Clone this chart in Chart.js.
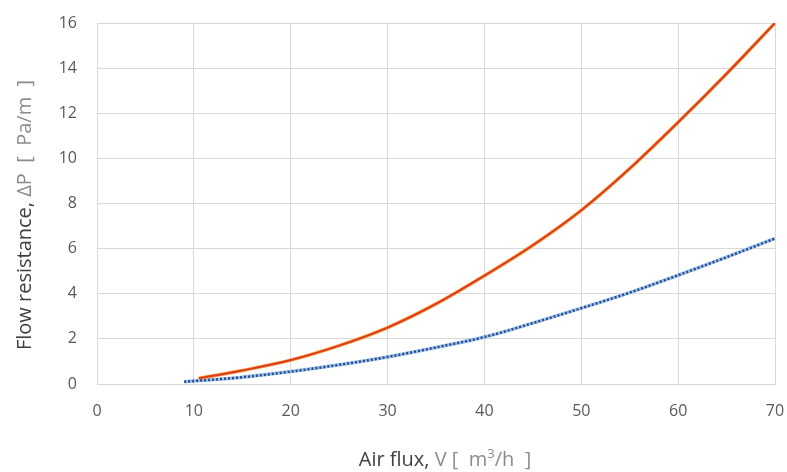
<!DOCTYPE html>
<html>
<head>
<meta charset="utf-8">
<script src="https://cdn.jsdelivr.net/npm/chart.js@4.4.0/dist/chart.umd.min.js"></script>
<style>
  html, body { margin: 0; padding: 0; background: #fff; overflow: hidden; }
  #wrap { width: 787px; height: 472px; position: relative; }
  canvas { display: block; }
</style>
</head>
<body>
<div id="wrap"><canvas id="chart"></canvas></div>
<script>
// --- data ---
const redFlux = [10.5, 15, 20, 25, 30, 35, 40, 45, 50, 55, 60, 65, 70];
const redDp   = [0.25, 0.6, 1.06, 1.7, 2.5, 3.55, 4.8, 6.15, 7.7, 9.55, 11.6, 13.75, 16];
const blueFlux = [9, 15, 20, 25, 30, 35, 40, 45, 50, 55, 60, 65, 70];
const blueDp   = [0.1, 0.3, 0.55, 0.85, 1.2, 1.62, 2.08, 2.7, 3.36, 4.05, 4.82, 5.62, 6.45];
const xTicks = [0, 10, 20, 30, 40, 50, 60, 70];
const yTicks = [0, 2, 4, 6, 8, 10, 12, 14, 16];

const pts = (xs, ys) => xs.map((x, i) => ({ x: x, y: ys[i] }));

const FONT = '"Open Sans", "Noto Sans", sans-serif';
const dark = '#404040';
const light = '#8c8c8c';

// axis titles in two colours, like the original
const titlePlugin = {
    id: 'twoToneTitles',
    afterDraw(chart) {
        const ctx = chart.ctx;
        ctx.save();
        ctx.textBaseline = 'alphabetic';

        // x title, with a small superscript 3
        const a = 'Air flux, ', b = 'V [  m', sup = '3', c = '/h  ]';
        ctx.font = '20px ' + FONT;
        const wa = ctx.measureText(a).width, wb = ctx.measureText(b).width, wc = ctx.measureText(c).width;
        ctx.font = '13px ' + FONT;
        const ws = ctx.measureText(sup).width;
        let x = 445 - (wa + wb + ws + wc) / 2;
        const y = 466;
        ctx.font = '20px ' + FONT;
        ctx.fillStyle = dark; ctx.fillText(a, x, y); x += wa;
        ctx.fillStyle = light; ctx.fillText(b, x, y); x += wb;
        ctx.font = '13px ' + FONT; ctx.fillText(sup, x, y - 8); x += ws;
        ctx.font = '20px ' + FONT; ctx.fillText(c, x, y);

        // y title, rotated
        ctx.translate(31, 215);
        ctx.rotate(-Math.PI / 2);
        const parts = [['Flow resistance, ', dark], ['\u0394P  [  Pa/m  ]', light]];
        const total = parts.reduce((s, p) => s + ctx.measureText(p[0]).width, 0);
        let px = -total / 2;
        parts.forEach(p => {
            ctx.fillStyle = p[1];
            ctx.fillText(p[0], px, 0);
            px += ctx.measureText(p[0]).width;
        });
        ctx.restore();
    }
};

new Chart(document.getElementById('chart'), {
    type: 'line',
    data: {
        datasets: [
            // thin lines first so they sit on top of their wide halos
            { data: pts(redFlux, redDp), borderColor: '#dd3a22', borderWidth: 2, pointRadius: 0, cubicInterpolationMode: 'monotone' },
            { data: pts(blueFlux, blueDp), borderColor: '#2c4a8c', borderWidth: 2.5, borderDash: [2, 2], pointRadius: 0, cubicInterpolationMode: 'monotone' },
            { data: pts(redFlux, redDp), borderColor: '#f5a23c', borderWidth: 3.5, pointRadius: 0, cubicInterpolationMode: 'monotone' },
            { data: pts(blueFlux, blueDp), borderColor: '#9cc3ea', borderWidth: 3.5, pointRadius: 0, cubicInterpolationMode: 'monotone' }
        ]
    },
    options: {
        responsive: true,
        maintainAspectRatio: false,
        animation: false,
        layout: { padding: { top: 23, right: 12, left: 0, bottom: 0 } },
        plugins: { legend: { display: false }, tooltip: { enabled: false } },
        scales: {
            x: {
                type: 'linear',
                min: 0, max: 70,
                afterBuildTicks: (axis) => { axis.ticks = xTicks.map(v => ({ value: v })); },
                afterFit: (axis) => { axis.height = 88; axis.paddingLeft = 0; axis.paddingRight = 0; },
                grid: { color: '#d9d9d9', drawTicks: false },
                border: { color: '#d9d9d9' },
                ticks: { color: '#595959', font: { family: FONT, size: 16 }, padding: 18 }
            },
            y: {
                min: 0, max: 16,
                afterBuildTicks: (axis) => { axis.ticks = yTicks.map(v => ({ value: v })); },
                afterFit: (axis) => { axis.width = 97; axis.paddingTop = 0; axis.paddingBottom = 0; },
                grid: { color: '#d9d9d9', drawTicks: false },
                border: { display: false },
                ticks: { color: '#595959', font: { family: FONT, size: 16 }, padding: 20 }
            }
        }
    },
    plugins: [titlePlugin]
});
</script>
</body>
</html>
